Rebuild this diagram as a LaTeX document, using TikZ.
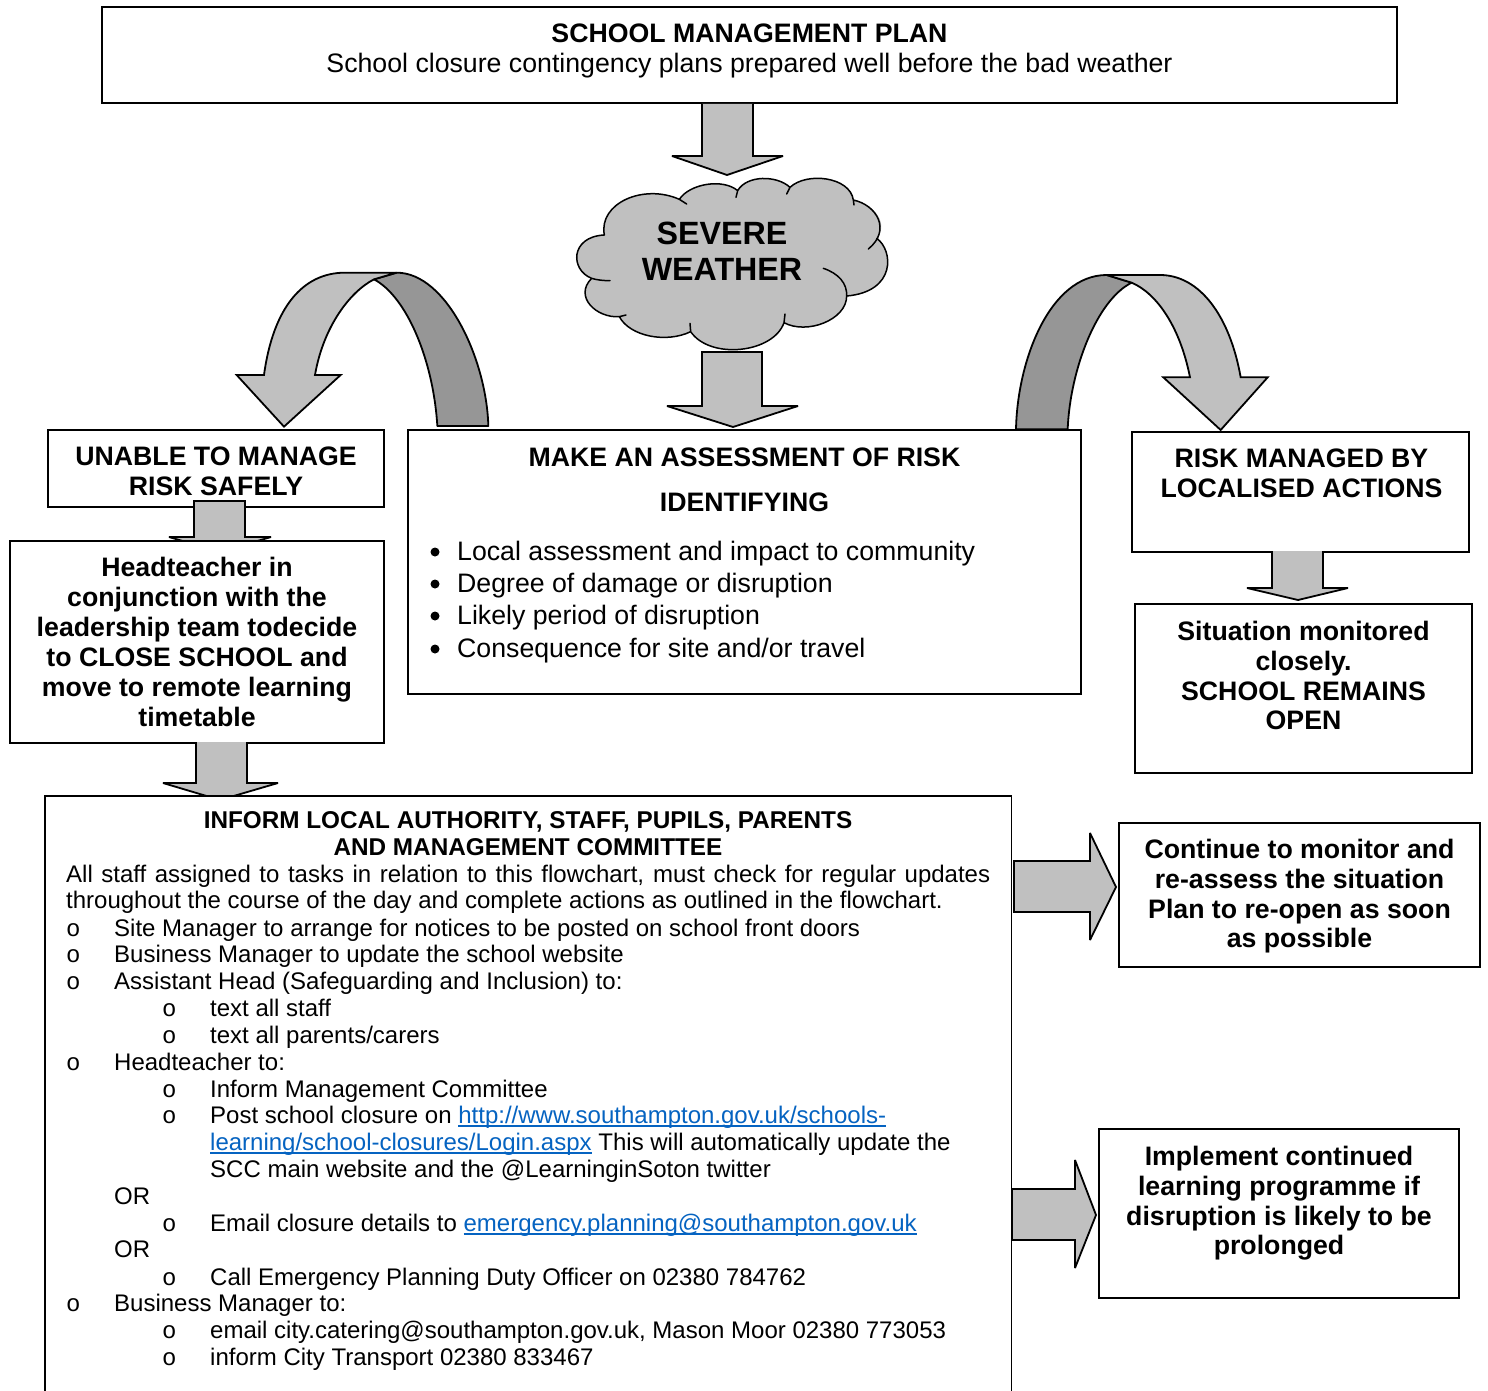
\documentclass[tikz,border=0pt]{standalone}
\usepackage{fontspec}
\setmainfont{Liberation Sans}
\newfontfamily\circfont{Liberation Mono}
\definecolor{lg}{HTML}{C0C0C0}
\definecolor{dg}{HTML}{969696}
\definecolor{lk}{HTML}{0563C1}
\newlength\lnkw
\newcommand{\lnk}[1]{\settowidth{\lnkw}{#1}\textcolor{lk}{\rlap{\rule[-3.6pt]{\lnkw}{1.8pt}}#1}}
\newcommand{\lin}[4]{\node[bodyline] (#1) at (#2,#3) {#4};}
\newcommand{\cir}[3]{\node[bodyline] (#1) at (#2,#3) {\circfont o};}
\newcommand{\bul}[2]{\node[bulletn] (#1) at (435,#2) {};}
\tikzset{
 boxn/.style={draw=black,line width=1.8pt,fill=white,inner sep=0,anchor=north west},
 blockar/.style={draw=black,line width=1.8pt,fill=lg,line join=miter,miter limit=3},
 darkar/.style={draw=black,line width=1.8pt,fill=dg,line join=round},
 boldtxt/.style={font=\fontsize{26.7}{30}\selectfont\bfseries,align=center,inner sep=0,anchor=north},
 bodyline/.style={font=\fontsize{24}{27}\selectfont,inner sep=0,anchor=base west},
 hdline/.style={font=\fontsize{24.3}{27}\selectfont\bfseries,align=center,inner sep=0,anchor=north},
 asline/.style={font=\fontsize{26.7}{32}\selectfont,inner sep=0,anchor=base west},
 bulletn/.style={circle,fill=black,inner sep=0,minimum size=9pt},
}
\begin{document}
\begin{tikzpicture}[x=1pt,y=-1pt]
\useasboundingbox (0,0) rectangle (1488,1391);
% top box
\node[boxn,minimum width=1295pt,minimum height=96pt] (plan) at (101,6) {};
\node[boldtxt] (plant) at (749.5,21) {\strut SCHOOL MANAGEMENT PLAN\\\mdseries School closure contingency plans prepared well before the bad weather};
% arrow 1
\draw[blockar] (plan.south -| 702,0) -- (702,156) -- (672,156) -- (727,175) -- (783,156) -- (753,156) -- (plan.south -| 753,0);
% cloud
\begin{scope}[shift={(560pt,-100pt)},x=0.33333pt,y=-0.33333pt]
\path[fill=lg] (133,405) .. controls (115,310) and (250,250) .. (358,298)
 .. controls (390,250) and (490,235) .. (533,272)
 .. controls (560,225) and (650,225) .. (690,262)
 .. controls (740,215) and (870,230) .. (880,300)
 .. controls (950,315) and (985,375) .. (950,415)
 .. controls (1000,450) and (1010,575) .. (860,588)
 .. controls (860,660) and (740,705) .. (672,668)
 .. controls (640,760) and (450,780) .. (392,695)
 .. controls (320,730) and (210,710) .. (178,650)
 .. controls (110,655) and (40,590) .. (95,535)
 .. controls (30,510) and (30,410) .. (133,405) -- cycle;
\draw[line width=1.5pt,line cap=round] (133,405) .. controls (115,310) and (250,250) .. (358,298)
 -- (380,312) (358,298)
 .. controls (390,250) and (490,235) .. (533,272) -- (528,292) (533,272)
 .. controls (560,225) and (650,225) .. (690,262) -- (680,282) (690,262)
 .. controls (740,215) and (870,230) .. (880,300) -- (882,315) (880,300)
 .. controls (950,315) and (995,390) .. (925,447) (950,415)
 .. controls (1000,450) and (1010,575) .. (860,588)
 (790,505) .. controls (835,520) and (862,550) .. (860,588)
 .. controls (860,660) and (740,705) .. (672,668) -- (675,642) (672,668)
 .. controls (640,760) and (450,780) .. (392,695) -- (390,670) (392,695)
 .. controls (320,730) and (210,710) .. (178,650) -- (198,645) (178,650)
 .. controls (110,655) and (40,590) .. (95,535) (150,542) .. controls (130,542) and (110,540) .. (95,535)
 .. controls (30,510) and (30,410) .. (133,405);
\end{scope}
\node[font=\fontsize{32.2}{36}\selectfont\bfseries,align=center,inner sep=0,anchor=north] (cloudt) at (722,219) {\strut SEVERE\\WEATHER};
% arrow 2
\draw[blockar] (702,352) -- (702,406) -- (667,406) -- (733,427) -- (798,406) -- (762,406) -- (762,352) -- cycle;
% left curved arrow
\begin{scope}[shift={(220pt,-260pt)},x=0.33333pt,y=-0.33333pt]
\draw[darkar] (805,498) .. controls (800,300) and (680,38) .. (530,38) -- (462,58)
 .. controls (560,110) and (640,300) .. (652,498) -- cycle;
\draw[blockar] (530,38) -- (375,38) .. controls (250,38) and (160,140) .. (132,345) -- (50,345) -- (192,500) -- (362,345) -- (285,345)
 .. controls (310,200) and (390,95) .. (462,58) -- cycle;
\end{scope}
% right curved arrow
\begin{scope}[shift={(1000pt,-260pt)},x=0.33333pt,y=-0.33333pt]
\draw[darkar] (48,508) .. controls (52,300) and (150,45) .. (320,45) -- (395,68)
 .. controls (290,120) and (210,330) .. (203,508) -- cycle;
\draw[blockar] (320,45) -- (480,45) .. controls (600,45) and (690,170) .. (722,352) -- (803,352) -- (662,510) -- (490,352) -- (570,352)
 .. controls (540,200) and (470,100) .. (395,68) -- cycle;
\end{scope}
% unable
\node[boxn,minimum width=336pt,minimum height=77pt] (unable) at (47,429) {};
\node[boldtxt] (unablet) at (216,444) {\strut UNABLE TO MANAGE\\RISK SAFELY};
% assess
\node[boxn,minimum width=673pt,minimum height=264pt] (assess) at (407,429) {};
\node[boldtxt] (assesst) at (744.5,445) {\strut MAKE AN ASSESSMENT OF RISK\\[15pt]IDENTIFYING};
\bul{b1}{552}\node[asline] (a1) at (457,560) {Local assessment and impact to community};
\bul{b2}{584}\node[asline] (a2) at (457,592) {Degree of damage or disruption};
\bul{b3}{616}\node[asline] (a3) at (457,624) {Likely period of disruption};
\bul{b4}{649}\node[asline] (a4) at (457,657) {Consequence for site and/or travel};
% risk
\node[boxn,minimum width=337pt,minimum height=120pt] (risk) at (1131,431) {};
\node[boldtxt] (riskt) at (1301.5,446) {\strut RISK MANAGED BY\\LOCALISED ACTIONS};
% arrow unable to head
\draw[blockar] (194,501) -- (194,537) -- (169,537) -- (220,552) -- (271,537) -- (245,537) -- (245,501) -- cycle;
% head
\node[boxn,minimum width=374pt,minimum height=202pt] (head) at (9,540) {};
\node[boldtxt] (headt) at (197,555) {\strut Headteacher in\\conjunction with the\\leadership team todecide\\to CLOSE SCHOOL and\\move to remote learning\\timetable};
% arrow risk to monitored
\draw[blockar] (1272,551) -- (1272,588) -- (1247,588) -- (1298,600) -- (1348,588) -- (1323,588) -- (1323,551);
% monitored
\node[boxn,minimum width=337pt,minimum height=169pt] (mon) at (1134,603) {};
\node[boldtxt] (mont) at (1303.5,619) {\strut Situation monitored\\closely.\\SCHOOL REMAINS\\[-1pt]OPEN};
% arrow head to inform
\draw[blockar] (196,742) -- (196,783) -- (163,783) -- (220,800) -- (278,783) -- (247,783) -- (247,742);
% inform
\node[draw=none,fill=white,inner sep=0,anchor=north west,minimum width=966pt,minimum height=595pt] (inform) at (45,796) {};
\draw[line width=1.8pt] (inform.south west) -- (inform.north west) -- (inform.north east) -- (inform.south east);
\node[hdline] (informt) at (528,809) {\strut INFORM LOCAL AUTHORITY, STAFF, PUPILS, PARENTS\\AND MANAGEMENT COMMITTEE};
\lin{l1}{66}{882}{\makebox[924pt][s]{All staff assigned to tasks in relation to this flowchart, must check for regular updates}}
\lin{l2}{66}{908}{throughout the course of the day and complete actions as outlined in the flowchart.}
\cir{c3}{66}{936}\lin{l3}{114}{936}{Site Manager to arrange for notices to be posted on school front doors}
\cir{c4}{66}{962}\lin{l4}{114}{962}{Business Manager to update the school website}
\cir{c5}{66}{989}\lin{l5}{114}{989}{Assistant Head (Safeguarding and Inclusion) to:}
\cir{c6}{162}{1016}\lin{l6}{210}{1016}{text all staff}
\cir{c7}{162}{1043}\lin{l7}{210}{1043}{text all parents/carers}
\cir{c8}{66}{1070}\lin{l8}{114}{1070}{Headteacher to:}
\cir{c9}{162}{1097}\lin{l9}{210}{1097}{Inform Management Committee}
\cir{c10}{162}{1123}\lin{l10}{210}{1123}{Post school closure on \lnk{http://www.southampton.gov.uk/schools-}}
\lin{l11}{210}{1150}{\lnk{learning/school-closures/Login.aspx} This will automatically update the}
\lin{l12}{210}{1177}{SCC main website and the @LearninginSoton twitter}
\lin{l13}{114}{1204}{OR}
\cir{c14}{162}{1231}\lin{l14}{210}{1231}{Email closure details to \lnk{emergency.planning@southampton.gov.uk}}
\lin{l15}{114}{1257}{OR}
\cir{c16}{162}{1285}\lin{l16}{210}{1285}{Call Emergency Planning Duty Officer on 02380 784762}
\cir{c17}{66}{1311}\lin{l17}{114}{1311}{Business Manager to:}
\cir{c18}{162}{1338}\lin{l18}{210}{1338}{email city.catering@southampton.gov.uk, Mason Moor 02380 773053}
\cir{c19}{162}{1365}\lin{l19}{210}{1365}{inform City Transport 02380 833467}
% right arrows
\draw[blockar] (1014,861) -- (1090,861) -- (1090,833) -- (1116,887) -- (1090,940) -- (1090,912) -- (1014,912) -- cycle;
\draw[blockar] (1012,1189) -- (1075,1189) -- (1075,1160) -- (1096,1215) -- (1075,1268) -- (1075,1240) -- (1012,1240) -- cycle;
% continue
\node[boxn,minimum width=361pt,minimum height=144pt] (cont) at (1118,822) {};
\node[boldtxt] (contt) at (1299.5,837) {\strut Continue to monitor and\\re-assess the situation\\Plan to re-open as soon\\[-1pt]as possible};
% implement
\node[boxn,minimum width=360pt,minimum height=169pt] (impl) at (1098,1128) {};
\node[boldtxt] (implt) at (1279,1144) {\strut Implement continued\\learning programme if\\disruption is likely to be\\[-1pt]prolonged};
\end{tikzpicture}
\end{document}
